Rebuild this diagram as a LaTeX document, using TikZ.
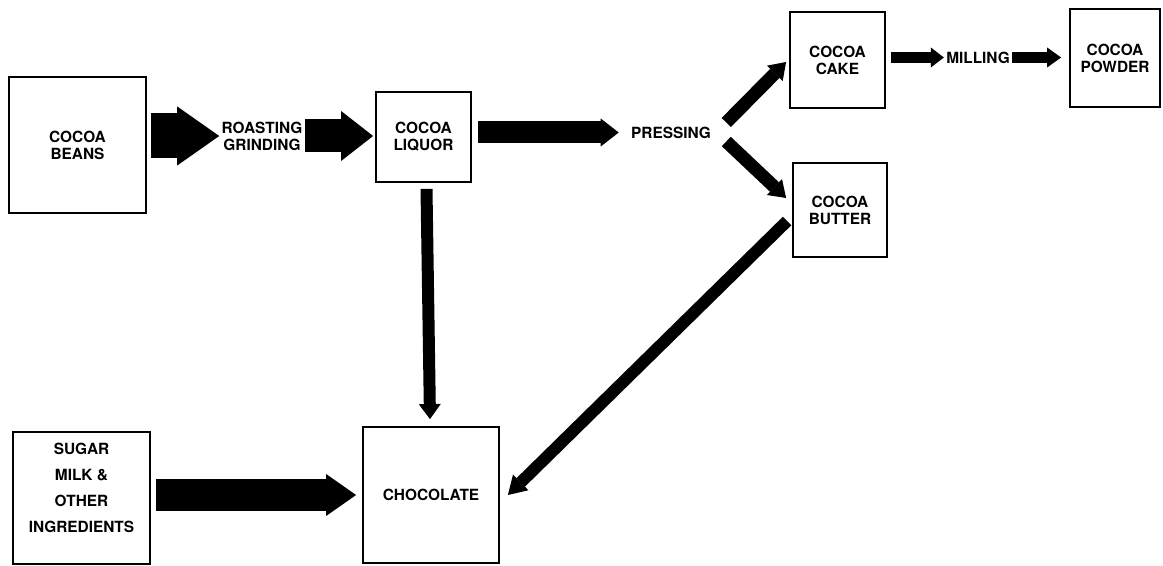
\documentclass[tikz,border=0pt]{standalone}
\usepackage{fontspec}
\setmainfont{TeX Gyre Heros}
\usetikzlibrary{arrows.meta}

\begin{document}
\begin{tikzpicture}[x=0.5pt,y=-0.5pt,
	stage/.style={draw,line width=0.9pt,align=center,inner sep=0pt,font=\fontsize{7.7}{8.5}\selectfont\bfseries},
	word/.style={align=center,inner sep=1pt,font=\fontsize{7.7}{8.5}\selectfont\bfseries},
	fat/.style n args={3}{line width=#1,-{Triangle[length=#2 0 0,width=#3 0 0,line width=0pt 0 0]}}]
	\useasboundingbox (0,0) rectangle (1163,566);
	% boxes
	\node[stage,minimum width=68.5pt,minimum height=68pt] (beans) at (77.5,145) {COCOA\\BEANS};
	\node[stage,minimum width=47.5pt,minimum height=45pt] (liquor) at (423.5,137) {COCOA\\LIQUOR};
	\node[stage,minimum width=47.5pt,minimum height=48pt] (cake) at (837.5,60) {COCOA\\CAKE};
	\node[stage,minimum width=47pt,minimum height=47pt] (butter) at (840,210) {COCOA\\BUTTER};
	\node[stage,minimum width=45pt,minimum height=49pt] (powder) at (1115,58) {COCOA\\POWDER};
	\node[stage,minimum width=68.5pt,minimum height=66pt,text depth=10pt,font=\fontsize{7.7}{13}\selectfont\bfseries] (sugar) at (81.5,498) {SUGAR\\MILK \&\\OTHER\\INGREDIENTS};
	\node[stage,minimum width=68pt,minimum height=68pt] (choc) at (431,495) {CHOCOLATE};
	% process words
	\node[word] (roast) at (262,136) {ROASTING\\GRINDING};
	\node[word] (press) at (671,132.5) {PRESSING};
	\node[word] (mill) at (978,57.5) {MILLING};
	% arrows
	\draw[fat={22.5pt}{21pt}{29.5pt},shorten <=2pt] (beans.east |- roast.west) -- (roast.west);
	\draw[fat={16.5pt}{16pt}{25pt},shorten >=1pt] (roast.east) -- (roast.east -| liquor.west);
	\draw[fat={11pt}{9pt}{14pt},shorten <=3pt,shorten >=5pt] (liquor.east |- press.west) -- (press.west);
	\draw[fat={6.5pt}{8pt}{11pt}] ([shift={(13,-10)}]press.east) -- ([shift={(-3,2)}]cake.west);
	\draw[fat={6.5pt}{8pt}{11pt}] ([shift={(13,9)}]press.east) -- ([shift={(-6,-12)}]butter.west);
	\draw[fat={6pt}{9pt}{11pt}] ([shift={(-5,11)}]butter.west) -- ([xshift=4pt]choc.east);
	\draw[fat={6pt}{7.5pt}{11pt}] ([shift={(3,6)}]liquor.south) -- ([shift={(-1,-7)}]choc.north);
	\draw[fat={16pt}{15pt}{21pt},shorten <=2.5pt,shorten >=3pt] (sugar.east |- choc.west) -- (choc.west);
	\draw[fat={5.5pt}{6.5pt}{10pt},shorten <=2.5pt] (cake.east |- mill.west) -- (mill.west);
	\draw[fat={5.5pt}{7pt}{10pt},shorten >=4pt] (mill.east) -- (mill.east -| powder.west);
\end{tikzpicture}
\end{document}
